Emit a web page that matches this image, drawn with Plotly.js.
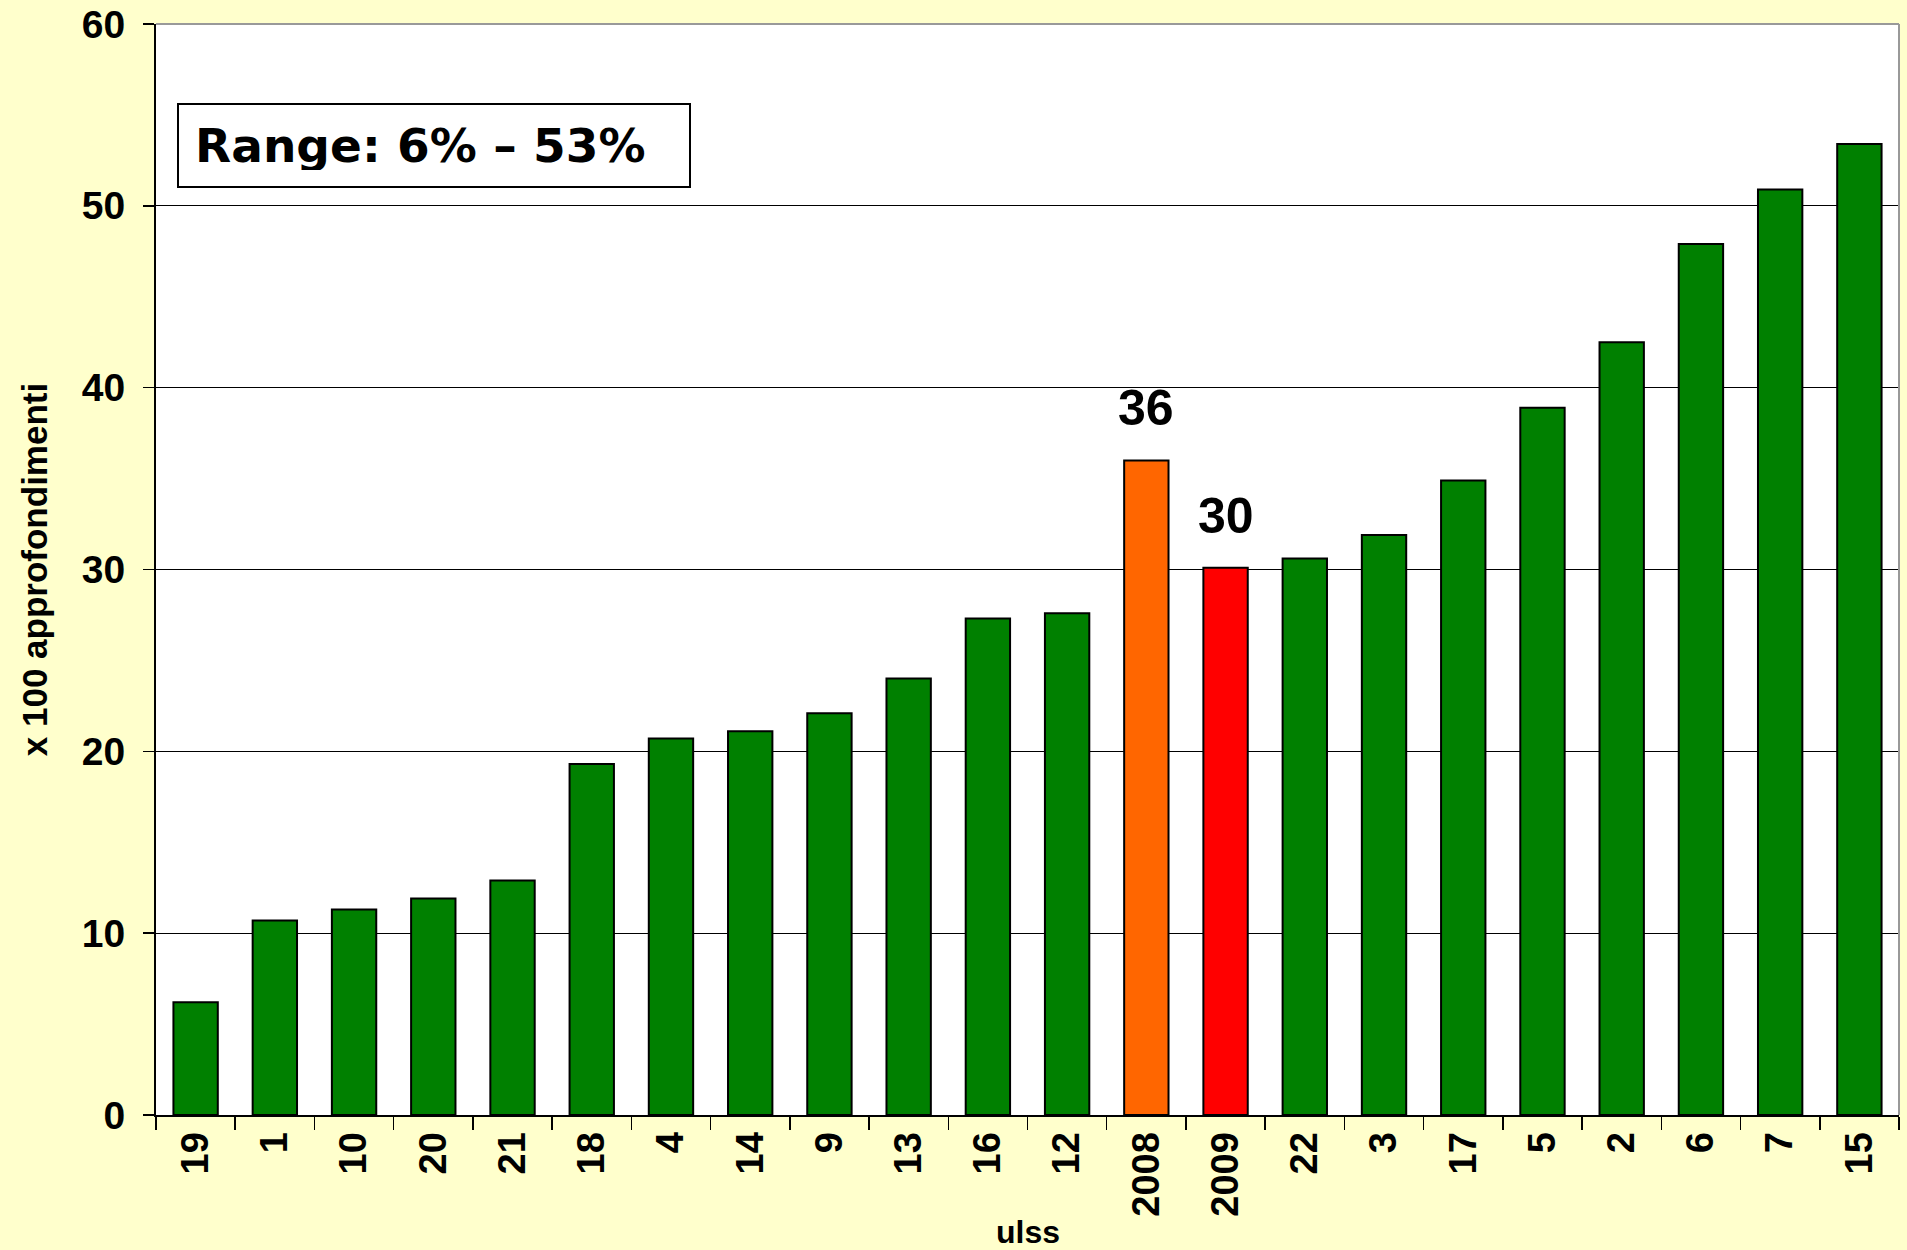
<!DOCTYPE html>
<html>
<head>
<meta charset="utf-8">
<script src="https://cdn.plot.ly/plotly-3.0.1.min.js"></script>
<style>
  html, body { margin: 0; padding: 0; background: #FFFFCC; }
  #chart { width: 1907px; height: 1250px; }
</style>
</head>
<body>
<div id="chart"></div>
<script>
// ---- data ----
const categories = ["19","1","10","20","21","18","4","14","9","13","16","12","2008","2009","22","3","17","5","2","6","7","15"];
const values = [6.2, 10.7, 11.3, 11.9, 12.9, 19.3, 20.7, 21.1, 22.1, 24.0, 27.3, 27.6, 36.0, 30.1, 30.6, 31.9, 34.9, 38.9, 42.5, 47.9, 50.9, 53.4];
const labelledCategories = ["2008", "2009"];
const yTickValues = [0, 10, 20, 30, 40, 50, 60];
const boxText = "Range: 6% \u2013 53%";
const xTitle = "ulss";
const yTitle = "x 100 approfondimenti";

// ---- styles ----
const highlightColors = { "2008": "#FF6600", "2009": "#FF0000" };
const defaultColor = "#008000";
const barColors = categories.map(c => highlightColors[c] || defaultColor);
const FONT = "Arial, 'Liberation Sans', sans-serif";

const trace = {
  type: "bar",
  x: categories,
  y: values,
  marker: { color: barColors, line: { color: "#000000", width: 2 } },
  hoverinfo: "x+y"
};

const valueAnnotations = labelledCategories.map(c => {
  const i = categories.indexOf(c);
  return {
    x: i, y: values[i], xref: "x", yref: "y",
    text: String(Math.round(values[i])),
    showarrow: false, yanchor: "bottom", yshift: 22,
    font: { family: FONT, size: 50, color: "#000", weight: "bold" }
  };
});

const layout = {
  width: 1907, height: 1250,
  paper_bgcolor: "#FFFFCC",
  plot_bgcolor: "#FFFFFF",
  margin: { l: 156, r: 8, t: 24, b: 135 },
  bargap: 0.44,
  showlegend: false,
  xaxis: {
    type: "category",
    categoryorder: "array",
    categoryarray: categories,
    range: [-0.5, categories.length - 0.5],
    tickangle: -90,
    ticks: "outside", tickson: "boundaries", ticklen: 13, tickcolor: "#000", tickwidth: 1.5,
    showline: true, linecolor: "#000", linewidth: 2,
    showgrid: false,
    tickfont: { family: FONT, size: 38, color: "#000", weight: "bold" },
    automargin: false
  },
  yaxis: {
    range: [0, 60],
    tickvals: yTickValues,
    ticks: "outside", ticklen: 11, tickcolor: "#000", tickwidth: 1.5,
    showline: true, linecolor: "#000", linewidth: 2,
    showgrid: true, gridcolor: "#000", gridwidth: 1,
    zeroline: false,
    tickfont: { family: FONT, size: 39, color: "#000", weight: "bold" },
    ticklabelstandoff: 10,
    title: { text: yTitle, standoff: 24, font: { family: FONT, size: 35, color: "#000", weight: "bold" } },
    automargin: false
  },
  shapes: [
    { type: "line", xref: "paper", yref: "paper", x0: 0, x1: 1, y0: 1, y1: 1, line: { color: "#999999", width: 2 } },
    { type: "line", xref: "paper", yref: "paper", x0: 1, x1: 1, y0: 0, y1: 1, line: { color: "#999999", width: 2 } }
  ],
  annotations: [
    ...valueAnnotations,
    {
      xref: "paper", yref: "paper", x: 0.012, y: 0.9276, xanchor: "left", yanchor: "top",
      text: boxText, showarrow: false, align: "left",
      width: 478, height: 49,
      bgcolor: "#FFFFFF", bordercolor: "#000", borderwidth: 2, borderpad: 16,
      font: { family: "'Comic Sans MS', 'DejaVu Sans', sans-serif", size: 47, color: "#000", weight: "bold" }
    },
    {
      xref: "paper", yref: "paper", x: 0.5, y: -0.107, xanchor: "center", yanchor: "middle",
      text: xTitle, showarrow: false,
      font: { family: FONT, size: 32, color: "#000", weight: "bold" }
    }
  ]
};

Plotly.newPlot("chart", [trace], layout, { displayModeBar: false, staticPlot: true });
</script>
</body>
</html>
